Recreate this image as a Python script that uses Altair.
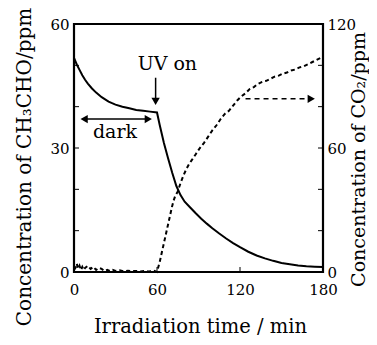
import altair as alt
import pandas as pd

# ---- data ----
t_ch = [0, 2, 4, 6, 8, 10, 13, 16, 20, 25, 30, 35, 40, 45, 50, 55, 60,
        62, 65, 68, 71, 74, 77, 80, 84, 88, 92, 96, 100, 105, 110, 115, 120,
        126, 132, 138, 144, 150, 156, 162, 168, 174, 180]
ch3cho = [51.8, 50.2, 48.9, 47.6, 46.5, 45.6, 44.4, 43.4, 42.3, 41.2, 40.5, 40.0, 39.6, 39.2, 39.0, 38.8, 38.6,
          35.5, 31.2, 27.5, 24.0, 20.8, 18.6, 17.0, 15.6, 14.2, 12.9, 11.7, 10.6, 9.3, 8.1, 7.0, 6.0,
          4.9, 4.0, 3.3, 2.7, 2.2, 1.9, 1.6, 1.4, 1.3, 1.2]

t_co2 = [0, 1, 2, 3, 4, 5, 6, 7, 8, 10, 12, 14, 16, 18, 20, 22, 24, 26, 28, 30,
         33, 36, 39, 42, 45, 48, 51, 54, 57, 60,
         62, 64, 66, 68, 70, 71, 72, 73, 75, 77, 79, 81, 83, 85, 88, 91, 94, 97, 100,
         103, 106, 109, 112, 115, 118, 121, 124, 127, 130, 133, 136, 139, 142, 145,
         148, 151, 154, 157, 160, 163, 166, 169, 172, 175, 178, 180]
co2 = [3.0, 2.0, 4.0, 1.5, 3.0, 1.0, 2.5, 1.0, 2.0, 3.0, 1.5, 2.5, 1.0, 2.0, 1.5, 0.5, 1.0, 0.5, 1.0, 0.5,
       0.8, 0.3, 0.6, 0.4, 0.5, 0.3, 0.5, 0.2, 0.8, 0.0,
       5.0, 11.0, 17.0, 23.0, 29.0, 32.0, 34.5, 36.5, 39.0, 43.0, 46.5, 49.5, 52.0, 54.0, 57.0, 60.0, 62.5, 65.5, 68.5,
       71.0, 74.0, 76.5, 78.0, 80.5, 83.0, 85.0, 86.5, 88.5, 89.5, 91.0, 92.0, 92.5, 93.5, 94.5,
       95.0, 96.0, 96.5, 97.5, 98.0, 99.0, 99.5, 100.5, 101.5, 102.5, 103.5, 103.0]

x_labels = [0, 60, 120, 180]
left_labels = [0, 30, 60]
right_labels = [0, 60, 120]
left_ticks = [10, 20, 30, 40, 50]
right_ticks = [20, 40, 60, 80, 100]
x_ticks = [60, 120]

# annotations (time, CH3CHO-scale value)
uv_text = {"t": [67.5], "v": [48.9], "label": ["UV on"]}
dark_text = {"t": [29.6], "v": [32.3], "label": ["dark"]}
uv_arrow = {"t": [59], "v": [47.0], "v2": [42.0]}
uv_head = {"t": [59], "v": [41.3]}
dark_arrow = {"t": [7.0], "t2": [54.0], "v": [37.0]}
dark_heads = {"t": [7.3, 53.7], "v": [37.0, 37.0], "shape": ["triangle-left", "triangle-right"]}
co2_arrow = {"t": [124.0], "t2": [170.0], "v": [41.9]}
co2_head = {"t": [171.5], "v": [41.9]}

FONT = "DejaVu Serif"

xscale = alt.Scale(domain=[0, 180], nice=False, zero=False)
lscale = alt.Scale(domain=[0, 60], nice=False)
rscale = alt.Scale(domain=[0, 120], nice=False)

x_axis = alt.Axis(values=x_labels, title="Irradiation time / min", tickSize=0, domain=False, grid=False,
                  labelPadding=10, labelFlush=False, titleX=126, titleY=60, titleBaseline="alphabetic",
                  titleAlign="center", titleFontSize=19.5)
l_axis = alt.Axis(values=left_labels, orient="left", title="Concentration of CH₃CHO/ppm", tickSize=0,
                  domain=False, grid=False, labelPadding=5, titleAngle=-90, titleX=-44, titleY=142.5,
                  titleAlign="center", titleBaseline="alphabetic", titleFontSize=20)
r_axis = alt.Axis(values=right_labels, orient="right", title="Concentration of CO₂/ppm", tickSize=0,
                  domain=False, grid=False, labelPadding=4, titleAngle=-90, titleX=41, titleY=135,
                  titleAlign="center", titleBaseline="alphabetic", titleFontSize=19)

df_ch = pd.DataFrame({"t": t_ch, "v": ch3cho})
df_co2 = pd.DataFrame({"t": t_co2, "v": co2})

X = lambda: alt.X("t:Q", scale=xscale, axis=x_axis)
YL = lambda: alt.Y("v:Q", scale=lscale, axis=None)

line_ch = alt.Chart(df_ch).mark_line(color="black", strokeWidth=2).encode(
    x=X(),
    y=alt.Y("v:Q", scale=lscale, axis=l_axis),
)

tick_l = alt.Chart(pd.DataFrame({"v": left_ticks})).mark_rule(color="black", strokeWidth=1).encode(
    y=YL(), x=alt.value(0), x2=alt.value(5))
tick_x = alt.Chart(pd.DataFrame({"t": x_ticks})).mark_rule(color="black", strokeWidth=1).encode(
    x=X(), y=alt.value(248), y2=alt.value(243))

txt = alt.Chart(pd.DataFrame(uv_text)).mark_text(font=FONT, fontSize=19, color="black",
                                                  align="center", baseline="alphabetic").encode(
    x=X(), y=YL(), text="label:N")
txt2 = alt.Chart(pd.DataFrame(dark_text)).mark_text(font=FONT, fontSize=19, color="black",
                                                    align="center", baseline="alphabetic").encode(
    x=X(), y=YL(), text="label:N")

uv_line = alt.Chart(pd.DataFrame(uv_arrow)).mark_rule(color="black", strokeWidth=1.5).encode(
    x=X(), y=YL(), y2="v2:Q")
uv_tip = alt.Chart(pd.DataFrame(uv_head)).mark_point(shape="triangle-down", filled=True, size=70,
                                                     color="black", opacity=1).encode(x=X(), y=YL())

dk_line = alt.Chart(pd.DataFrame(dark_arrow)).mark_rule(color="black", strokeWidth=1.5).encode(
    x=X(), x2="t2:Q", y=YL())
dk_tips = alt.Chart(pd.DataFrame(dark_heads)).mark_point(filled=True, size=70, color="black",
                                                         opacity=1).encode(
    x=X(), y=YL(), shape=alt.Shape("shape:N", scale=None, legend=None))

c_line = alt.Chart(pd.DataFrame(co2_arrow)).mark_rule(color="black", strokeWidth=1.5,
                                                      strokeDash=[5, 4]).encode(
    x=X(), x2="t2:Q", y=YL())
c_tip = alt.Chart(pd.DataFrame(co2_head)).mark_point(shape="triangle-right", filled=True, size=70,
                                                     color="black", opacity=1).encode(x=X(), y=YL())

line_co2 = alt.Chart(df_co2).mark_line(color="black", strokeWidth=2, strokeDash=[4, 3]).encode(
    x=X(),
    y=alt.Y("v:Q", scale=rscale, axis=r_axis),
)
tick_r = alt.Chart(pd.DataFrame({"v": right_ticks})).mark_rule(color="black", strokeWidth=1).encode(
    y=alt.Y("v:Q", scale=rscale, axis=None), x=alt.value(244), x2=alt.value(249))

chart = alt.layer(line_ch, line_co2, tick_l, tick_x, tick_r, txt, txt2, uv_line, uv_tip,
                  dk_line, dk_tips, c_line, c_tip).resolve_scale(y="independent").properties(
    width=249, height=248,
    autosize=alt.AutoSizeParams(type="none"),
    padding={"left": 66, "top": 16, "right": 46, "bottom": 65},
).configure_view(stroke="black", strokeWidth=2.2).configure_axis(
    labelFont=FONT, labelFontSize=15, labelColor="black",
    titleFont=FONT, titleFontWeight="normal", titleColor="black",
)

chart.save("out.html", embed_options={"renderer": "svg", "actions": False})
